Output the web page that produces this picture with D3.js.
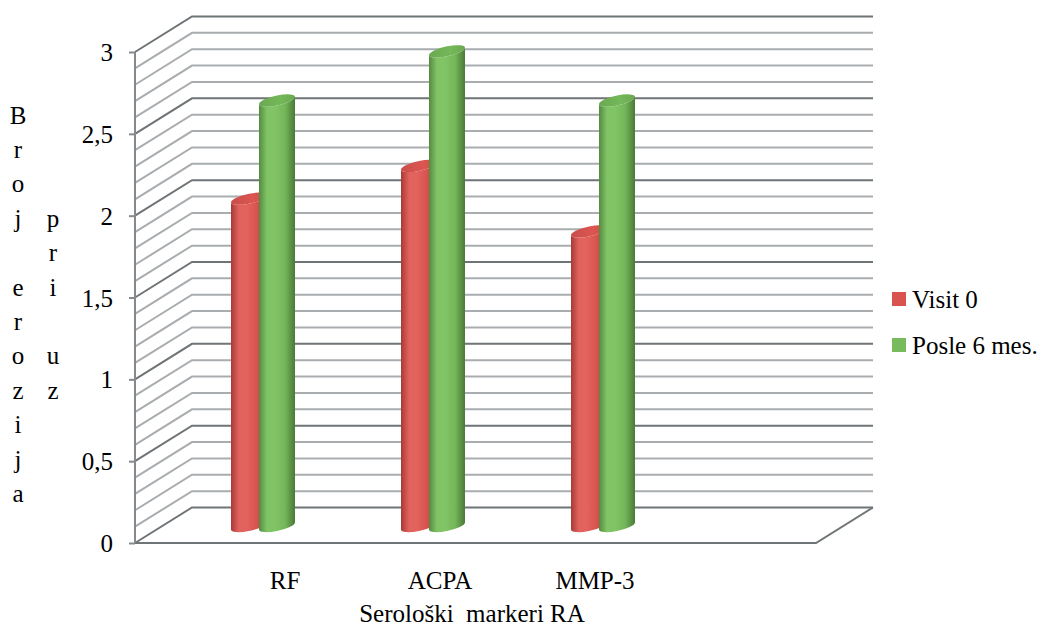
<!DOCTYPE html>
<html>
<head>
<meta charset="utf-8">
<script src="https://cdn.jsdelivr.net/npm/d3@7"></script>
<style>
  html, body { margin: 0; padding: 0; background: #ffffff; }
  svg { display: block; }
  text { font-family: "Liberation Serif", "Times New Roman", serif; fill: #000; }
</style>
</head>
<body>
<svg id="chart" width="1044" height="626"></svg>
<script>
// ---- data ----
const categories = ["RF", "ACPA", "MMP-3"];
const seriesNames = ["Visit 0", "Posle 6 mes."];
const visit0 = [2.0, 2.2, 1.8];
const posle6 = [2.6, 2.9, 2.6];
const yTickValues = [0, 0.5, 1, 1.5, 2, 2.5, 3];
const yTickLabels = ["0", "0,5", "1", "1,5", "2", "2,5", "3"];
const titleCol1 = ["B", "r", "o", "j", "", "e", "r", "o", "z", "i", "j", "a"];
const titleCol2 = ["p", "r", "i", "", "u", "z"];
const xTitle = "Serološki  markeri RA";

const seriesValues = [visit0, posle6];
const palette = {
  "Visit 0": { edge: "#a63a36", light: "#e2625d", mid: "#d8534f", dark: "#9c3532", top: "#c94e4a", legend: "#d9534f" },
  "Posle 6 mes.": { edge: "#55893f", light: "#80c466", mid: "#74b75a", dark: "#4b7a37", top: "#6aa851", legend: "#77bb5d" }
};

const svg = d3.select("#chart");
const defs = svg.append("defs");

// ---- 3D frame geometry ----
const frontLeft = 135, frontRight = 816;
const DX = 57, DY = -35.5;           // depth offset of the back wall
const yFront = d3.scaleLinear().domain([0, 3]).range([543, 52]);
const yBack = v => yFront(v) + DY;
const yBar = d3.scaleLinear().domain([0, 3]).range([526, 35]);  // mid-depth, where bars stand

// gridlines every 0.1, stronger every 0.5
const gridVals = d3.range(0, 31).map(i => i / 10);
const grid = svg.append("g").attr("class", "grid");
gridVals.forEach((v, i) => {
  const major = i % 5 === 0;
  const col = major ? "#6f7477" : "#a9adaf";
  grid.append("path")
    .attr("d", `M${frontLeft},${yFront(v)} L${frontLeft + DX},${yBack(v)} L${frontRight + DX},${yBack(v)}`)
    .attr("fill", "none")
    .attr("stroke", col)
    .attr("stroke-width", 2);
});

// floor edges
grid.append("path")
  .attr("d", `M${frontLeft},${yFront(0)} L${frontRight},${yFront(0)} L${frontRight + DX},${yBack(0)}`)
  .attr("fill", "none").attr("stroke", "#6f7477").attr("stroke-width", 2);

// vertical value axis
const yAxis = d3.axisLeft(yFront)
  .tickValues(yTickValues)
  .tickSize(6)
  .tickFormat((d, i) => yTickLabels[i]);
const axisG = svg.append("g").attr("transform", `translate(${frontLeft},0)`).call(yAxis);
axisG.select(".domain").attr("stroke", "#868a8d").attr("stroke-width", 2)
  .attr("d", `M0,${yFront(3)} V${yFront(0)}`);
axisG.selectAll(".tick line").attr("stroke", "#868a8d").attr("stroke-width", 2);
axisG.selectAll(".tick text")
  .attr("x", -22)
  .attr("dy", "0.34em")
  .style("font-family", "'Liberation Serif', 'Times New Roman', serif")
  .style("font-size", "25px")
  .attr("fill", "#000");

// ---- cylinders ----
const xGroup = d3.scaleBand().domain(categories).range([178, 688]).padding(0);
const xSeries = d3.scaleBand().domain(seriesNames).range([-28, 28]).padding(0);
const RX = 18, RY = 5, SKEW = -0.2;

seriesNames.forEach(name => {
  const c = palette[name];
  const id = "grad-" + seriesNames.indexOf(name);
  const g = defs.append("linearGradient").attr("id", id)
    .attr("x1", "0%").attr("x2", "100%").attr("y1", "0%").attr("y2", "0%");
  [[0, c.edge], [0.22, c.light], [0.45, c.light], [0.72, c.mid], [1, c.dark]]
    .forEach(([o, col]) => g.append("stop").attr("offset", o).attr("stop-color", col));
  const tg = defs.append("linearGradient").attr("id", id + "-top")
    .attr("x1", "0%").attr("x2", "100%").attr("y1", "0%").attr("y2", "0%");
  [[0, c.top], [0.6, d3.color(c.top).brighter(0.25)], [1, c.top]]
    .forEach(([o, col]) => tg.append("stop").attr("offset", o).attr("stop-color", col));
});

const bars = svg.append("g").attr("class", "bars");
seriesNames.forEach((name, si) => {
  const values = seriesValues[si];
  const id = "grad-" + si;
  categories.forEach((cat, ci) => {
    const cx = xGroup(cat) + xGroup.bandwidth() / 2 + xSeries(name) + xSeries.bandwidth() / 2;
    const t = yBar(values[ci]);
    const b = yBar(0);
    const cyl = bars.append("g")
      .attr("transform", `matrix(1,${SKEW},0,1,${cx},0)`);
    cyl.append("path")
      .attr("d", `M${-RX},${t} L${-RX},${b} A${RX},${RY} 0 0 0 ${RX},${b} L${RX},${t} A${RX},${RY} 0 0 1 ${-RX},${t} Z`)
      .attr("fill", `url(#${id})`);
    cyl.append("ellipse")
      .attr("cx", 0).attr("cy", t).attr("rx", RX).attr("ry", RY)
      .attr("fill", `url(#${id}-top)`);
  });
});

// ---- category labels ----
const xLabel = d3.scaleBand().domain(categories).range([207.5, 672.5]);
svg.append("g").selectAll("text").data(categories).join("text")
  .attr("x", d => xLabel(d) + xLabel.bandwidth() / 2)
  .attr("y", 589)
  .attr("text-anchor", "middle")
  .style("font-size", "25px")
  .text(d => d);

// axis title
svg.append("text")
  .attr("x", 472).attr("y", 622)
  .attr("text-anchor", "middle")
  .style("font-size", "25px")
  .style("white-space", "pre")
  .text(xTitle);

// vertical value-axis title, letter by letter
const rowStep = 34.4;
svg.append("g").selectAll("text").data(titleCol1).join("text")
  .attr("x", 18).attr("y", (d, i) => 115 + i * rowStep + 8.5)
  .attr("text-anchor", "middle").style("font-size", "25px")
  .text(d => d);
svg.append("g").selectAll("text").data(titleCol2).join("text")
  .attr("x", 53).attr("y", (d, i) => 115 + (i + 3) * rowStep + 8.5)
  .attr("text-anchor", "middle").style("font-size", "25px")
  .text(d => d);

// ---- legend ----
const legend = svg.append("g").attr("transform", "translate(892,292)");
seriesNames.forEach((name, i) => {
  const row = legend.append("g").attr("transform", `translate(0,${i * 46})`);
  row.append("rect").attr("width", 14).attr("height", 14).attr("fill", palette[name].legend);
  row.append("text").attr("x", 20).attr("y", 16).style("font-size", "25px").text(name);
});
</script>
</body>
</html>
